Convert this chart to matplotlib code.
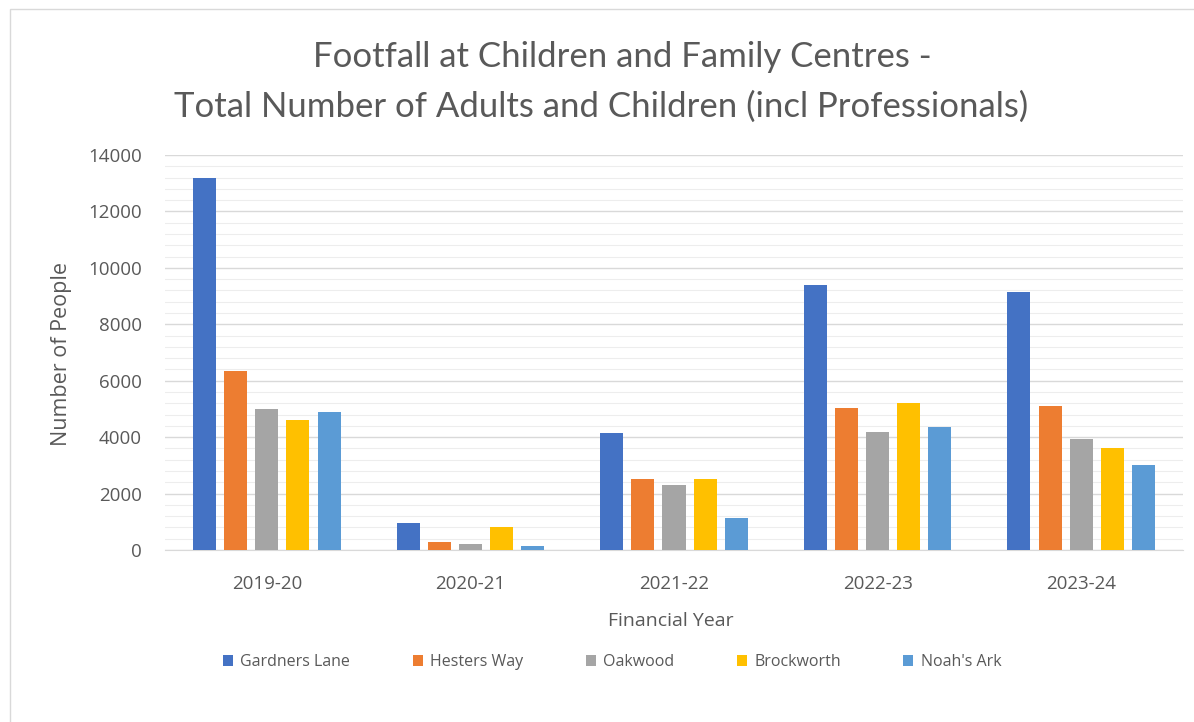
import matplotlib
matplotlib.use("Agg")
import matplotlib.pyplot as plt
from matplotlib.ticker import MultipleLocator
from matplotlib.patches import Rectangle
import numpy as np

years = ["2019-20", "2020-21", "2021-22", "2022-23", "2023-24"]
centres = ["Gardners Lane", "Hesters Way", "Oakwood", "Brockworth", "Noah's Ark"]
gardners_lane = [13200, 950, 4150, 9400, 9150]
hesters_way = [6350, 300, 2500, 5050, 5100]
oakwood = [5000, 220, 2300, 4200, 3950]
brockworth = [4600, 800, 2500, 5200, 3600]
noahs_ark = [4900, 150, 1150, 4350, 3000]
series = [gardners_lane, hesters_way, oakwood, brockworth, noahs_ark]
colors = ["#4472C4", "#ED7D31", "#A5A5A5", "#FFC000", "#5B9BD5"]

text_col = "#595959"
W, H = 1194, 722
fig = plt.figure(figsize=(W / 100, H / 100), dpi=100)

# chart area frame
fig.patches.append(Rectangle((10 / W, -0.1), 1.2, 1 - 9 / H + 0.1,
                             transform=fig.transFigure, fill=False,
                             edgecolor="#D9D9D9", linewidth=1.0))

ax = fig.add_axes([165 / W, 1 - 550 / H, (1183 - 165) / W, (550 - 155) / H])

x = np.arange(len(years))
step, width = 0.153, 0.113
for i, (vals, name, c) in enumerate(zip(series, centres, colors)):
    ax.bar(x + (i - 2) * step, vals, width=width, color=c, label=name, zorder=3)

ax.set_xlim(-0.5, len(years) - 0.5)
ax.set_ylim(0, 14000)
ax.yaxis.set_major_locator(MultipleLocator(2000))
ax.yaxis.set_minor_locator(MultipleLocator(400))
ax.grid(axis="y", which="major", color="#D9D9D9", linewidth=1.0, zorder=0)
ax.grid(axis="y", which="minor", color="#EDEDED", linewidth=0.8, zorder=0)
ax.set_axisbelow(True)

for s in ["top", "right", "left"]:
    ax.spines[s].set_visible(False)
ax.spines["bottom"].set_color("#D9D9D9")

ax.set_xticks(x)
ax.set_xticklabels(years)
ax.tick_params(axis="both", which="both", length=0, colors=text_col,
               labelsize=13.5)
ax.tick_params(axis="x", pad=18)
ax.tick_params(axis="y", pad=16.5)
for lab in ax.get_xticklabels() + ax.get_yticklabels():
    lab.set_family("Open Sans")

ax.set_xlabel("Financial Year", color=text_col, fontsize=14,
              family="Open Sans")
ax.xaxis.set_label_coords((671 - 165) / 1018, (550 - 612) / 395)

fig.text(62 / W, 1 - 354 / H, "Number of People", rotation=90,
         ha="center", va="center", color=text_col, fontsize=15.5,
         family="Open Sans")

fig.text(622 / W, 1 - 67 / H, "Footfall at Children and Family Centres -",
         ha="center", va="baseline", fontsize=25, color=text_col,
         family="Lato")
fig.text(601 / W, 1 - 117 / H,
         "Total Number of Adults and Children (incl Professionals)",
         ha="center", va="baseline", fontsize=25, color=text_col,
         family="Lato")

leg = fig.legend(loc="center", bbox_to_anchor=(612 / W, 1 - 662 / H), ncol=5,
                 frameon=False, handlelength=0.65, handleheight=0.65,
                 handletextpad=0.45, columnspacing=3.9,
                 prop={"family": "Open Sans", "size": 11.5})
for t in leg.get_texts():
    t.set_color(text_col)

fig.savefig("out.png", dpi=100, facecolor="white")
